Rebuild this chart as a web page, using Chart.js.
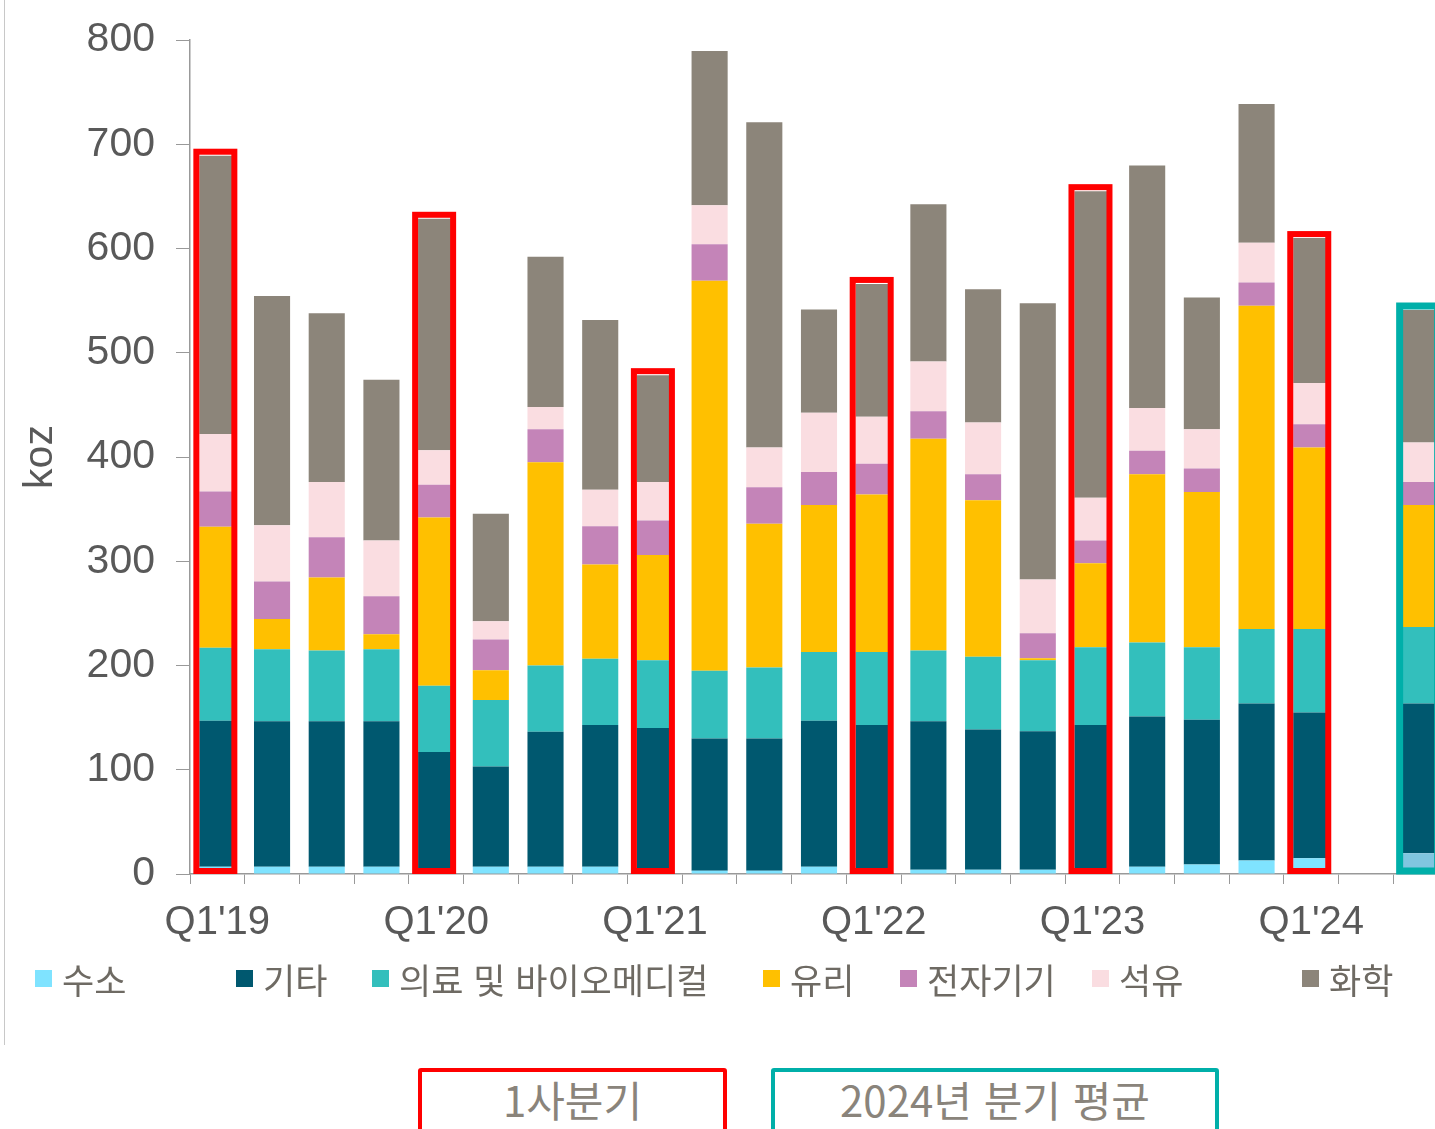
<!DOCTYPE html>
<html lang="ko">
<head>
<meta charset="utf-8">
<title>산업용 수요 (koz)</title>
<script src="https://cdn.jsdelivr.net/npm/chart.js@4.4.1/dist/chart.umd.min.js"></script>
<style>
  html, body { margin: 0; padding: 0; background: #fff; }
  body {
    width: 1435px; height: 1129px; overflow: hidden; position: relative;
    font-family: "Liberation Sans", "Noto Sans CJK KR", sans-serif;
  }
  #frame { position: absolute; left: 4px; top: 0; width: 1px; height: 1045px; background: #c8c8c8; }
  #chart-wrap { position: absolute; left: 0; top: 0; width: 1460px; height: 960px; }
  .legend-item {
    position: absolute; top: 956px; height: 44px;
    display: flex; align-items: center; white-space: nowrap;
    font-family: "Noto Sans CJK KR", sans-serif; font-size: 35px; color: #6e6a63;
  }
  .legend-item i { display: inline-block; width: 17px; height: 17px; margin-right: 10px; }
  .note {
    position: absolute; top: 1068px; height: 80px; box-sizing: border-box;
    border: 4px solid; border-radius: 3px; text-align: center;
    font-family: "Noto Sans CJK KR", sans-serif; font-size: 42px; line-height: 54px; color: #8a847b;
  }
</style>
</head>
<body>
<div id="frame"></div>
<div id="chart-wrap"><canvas id="chart" width="1460" height="960"></canvas></div>
<div id="legend"></div>
<div class="note" style="left:418px; width:309px; border-color:#ff0000;">1사분기</div>
<div class="note" style="left:771px; width:448px; border-color:#00afa9;">2024년 분기 평균</div>

<script>
// categories: quarters, one empty slot, then the 2024 quarterly average
const quarters = [
  "Q1'19", "Q2'19", "Q3'19", "Q4'19",
  "Q1'20", "Q2'20", "Q3'20", "Q4'20",
  "Q1'21", "Q2'21", "Q3'21", "Q4'21",
  "Q1'22", "Q2'22", "Q3'22", "Q4'22",
  "Q1'23", "Q2'23", "Q3'23", "Q4'23",
  "Q1'24", "", "2024 평균"
];
const avgIndex = quarters.length - 1;

// koz, stacked bottom to top
const hydrogen    = [7, 7, 7, 7, 5, 7, 7, 7, 5, 3, 3, 7, 4, 4, 4, 4, 4, 7, 9, 13, 15, null, 20];
const others      = [140, 139.5, 139.5, 139.5, 112, 96, 129.5, 136, 135, 127, 127, 140, 139, 142.5, 134.5, 133, 139, 144, 139, 150.5, 140, null, 143.5];
const medical     = [70, 69, 68, 69, 63.5, 64, 63.5, 63.5, 65, 65, 68, 66, 70, 68, 70, 68, 74.5, 71, 69.5, 71.5, 80, null, 73.5];
const glass       = [116, 29, 70, 14.5, 161.5, 28.5, 195, 90.5, 101, 374, 138, 141, 151, 203, 150, 2, 80.5, 161.5, 149, 310, 174, null, 117];
const electronics = [34, 36, 38.5, 36.5, 31.5, 29.5, 31.5, 36.5, 33, 35, 35, 31.5, 29.5, 26.5, 25, 24, 22, 22.5, 22.5, 22.5, 22.5, null, 22];
const petroleum   = [55, 54, 53, 53.5, 33, 17.5, 21.5, 35, 37, 37.5, 38, 57, 45, 47.5, 49.5, 51.5, 41, 41, 37.5, 38, 39.5, null, 38];
const chemical    = [267, 220, 162, 154, 222, 103, 144, 163, 102.5, 148, 312, 99, 127.5, 151, 128, 265, 294, 232.5, 126.5, 133, 139, null, 127];

const yTicks = [0, 100, 200, 300, 400, 500, 600, 700, 800];

const series = [
  { label: "수소", data: hydrogen, color: "#7fe3ff", avgColor: "#80c6e0" },
  { label: "기타", data: others, color: "#00586f" },
  { label: "의료 및 바이오메디컬", data: medical, color: "#33bfbc" },
  { label: "유리", data: glass, color: "#ffc000" },
  { label: "전자기기", data: electronics, color: "#c484b8" },
  { label: "석유", data: petroleum, color: "#fadde1" },
  { label: "화학", data: chemical, color: "#8c857a" }
];

// legend (html, Excel-style uneven columns)
const legendLeft = [35, 236, 372, 763, 900, 1092, 1302];
const legendEl = document.getElementById("legend");
series.forEach((s, i) => {
  const item = document.createElement("div");
  item.className = "legend-item";
  item.style.left = legendLeft[i] + "px";
  item.innerHTML = `<i style="background:${s.color}"></i>${s.label}`;
  legendEl.appendChild(item);
});

function stackTotal(i) {
  return series.reduce((sum, s) => sum + (s.data[i] || 0), 0);
}

// red frames round the Q1 bars, teal frame round the average bar
const highlightBoxes = {
  id: "highlightBoxes",
  afterDatasetsDraw(chart) {
    const { ctx, scales: { x, y } } = chart;
    const bottom = y.getPixelForValue(0);
    quarters.forEach((label, i) => {
      let color = null;
      if (label.startsWith("Q1")) color = "#ff0000";
      else if (i === avgIndex) color = "#00afa9";
      if (!color) return;
      const cx = x.getPixelForValue(i) - 2;
      const top = y.getPixelForValue(stackTotal(i)) - 4;
      ctx.save();
      ctx.strokeStyle = color;
      ctx.lineWidth = i === avgIndex ? 7 : 6;
      ctx.strokeRect(cx - 19, top, 38, bottom - 3 - top);
      ctx.restore();
    });
  }
};

const axisColor = "#999999";
const tickColor = "#595959";

new Chart(document.getElementById("chart").getContext("2d"), {
  type: "bar",
  data: {
    labels: quarters,
    datasets: series.map((s) => ({
      label: s.label,
      data: s.data,
      backgroundColor: s.avgColor
        ? (ctx) => (ctx.dataIndex === avgIndex ? s.avgColor : s.color)
        : s.color,
      borderWidth: 0,
      barPercentage: 0.66,
      categoryPercentage: 1
    }))
  },
  plugins: [highlightBoxes],
  options: {
    responsive: false,
    animation: false,
    layout: { padding: { top: 40, right: 12, left: 0, bottom: 0 } },
    plugins: {
      legend: { display: false },
      tooltip: { enabled: false }
    },
    scales: {
      x: {
        stacked: true,
        afterFit: (scale) => { scale.height = 86; },
        grid: { drawOnChartArea: false, drawTicks: true, tickLength: 10, color: axisColor, offset: true },
        border: { color: axisColor, width: 1.5 },
        ticks: {
          autoSkip: false,
          maxRotation: 0,
          padding: 15,
          color: tickColor,
          font: { family: "Liberation Sans", size: 40 },
          callback: function (value, index) {
            const label = quarters[index];
            return label.startsWith("Q1") ? label : "";
          }
        }
      },
      y: {
        stacked: true,
        min: yTicks[0],
        max: yTicks[yTicks.length - 1],
        afterFit: (scale) => {
          scale.width = 190;
          // label padding would otherwise push the plot top down
          scale.paddingTop = 0;
          scale.paddingBottom = 0;
        },
        afterBuildTicks: (scale) => { scale.ticks = yTicks.map((v) => ({ value: v })); },
        grid: { drawOnChartArea: false, drawTicks: true, tickLength: 14, color: axisColor },
        border: { color: axisColor, width: 1.5 },
        ticks: {
          padding: 21,
          color: tickColor,
          font: { family: "Liberation Sans", size: 41 }
        },
        title: {
          display: true,
          text: "koz",
          color: tickColor,
          font: { family: "Liberation Sans", size: 41 },
          padding: { top: 16, bottom: 0 }
        }
      }
    }
  }
});
</script>
</body>
</html>
